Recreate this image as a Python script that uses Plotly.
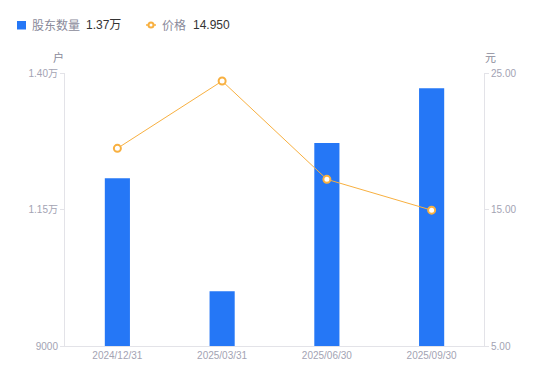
import plotly.graph_objects as go

categories = ["2024/12/31", "2025/03/31", "2025/06/30", "2025/09/30"]
holders = [12071, 10002, 12718, 13720]
prices = [19.48, 24.41, 17.21, 14.95]
left_tickvals = [9000, 11500, 14000]
left_ticktext = ["9000", "1.15万", "1.40万"]
right_tickvals = [5, 15, 25]
right_ticktext = ["5.00", "15.00", "25.00"]
legend_names = ["股东数量", "价格"]
legend_values = ["1.37万", "14.950"]

FONT = "Liberation Sans, Arial, Noto Sans CJK SC, sans-serif"
TICKC = "#a3a3b3"
AXC = "#e3e3e8"
BLUE = "#2577F6"
ORANGE = "#F8B040"

OFF = 8  # page body margin
W, H = 542, 373
L, R, T, B = 57, 66, 65, 35
PW, PH = W - L - R, H - T - B


def px(x):
    return (x - OFF - L) / PW


def py(y):
    return (H - B - (y - OFF)) / PH


fig = go.Figure()
fig.add_trace(go.Bar(
    x=categories, y=holders, name=legend_names[0],
    marker=dict(color=BLUE, line=dict(width=0)), width=0.24, yaxis="y",
))
fig.add_trace(go.Scatter(
    x=categories, y=prices, name=legend_names[1],
    mode="lines+markers", yaxis="y2",
    line=dict(color=ORANGE, width=1),
    marker=dict(symbol="circle", size=7, color="white", line=dict(color=ORANGE, width=2)),
))

shapes = [
    dict(type="rect", xref="paper", yref="paper", x0=px(17), x1=px(26), y0=py(21), y1=py(29.5),
         fillcolor=BLUE, line=dict(width=0), layer="above"),
    dict(type="line", xref="paper", yref="paper", x0=px(146), x1=px(156), y0=py(25), y1=py(25),
         line=dict(color=ORANGE, width=1.5)),
    dict(type="circle", xref="paper", yref="paper", x0=px(148.5), x1=px(153.5), y0=py(22.5), y1=py(27.5),
         fillcolor="white", line=dict(color=ORANGE, width=2)),
]

legend_font_name = dict(family="Noto Sans CJK SC, sans-serif", size=12, color="#8a8a9a")
legend_font_val = dict(family=FONT, size=12, color="#333333")

annotations = [
    dict(text=legend_names[0], xref="paper", yref="paper", x=px(30), y=py(25), xanchor="left",
         yanchor="middle", showarrow=False, font=legend_font_name),
    dict(text=legend_values[0], xref="paper", yref="paper", x=px(84), y=py(25), xanchor="left",
         yanchor="middle", showarrow=False, font=legend_font_val),
    dict(text=legend_names[1], xref="paper", yref="paper", x=px(160), y=py(25), xanchor="left",
         yanchor="middle", showarrow=False, font=legend_font_name),
    dict(text=legend_values[1], xref="paper", yref="paper", x=px(191), y=py(25), xanchor="left",
         yanchor="middle", showarrow=False, font=legend_font_val),
    dict(text="户", xref="paper", yref="paper", x=px(58), y=py(57), xanchor="center",
         yanchor="middle", showarrow=False,
         font=dict(family="Noto Sans CJK SC, sans-serif", size=11, color="#8a8a9a")),
    dict(text="元", xref="paper", yref="paper", x=px(490), y=py(57), xanchor="center",
         yanchor="middle", showarrow=False,
         font=dict(family="Noto Sans CJK SC, sans-serif", size=11, color="#8a8a9a")),
]

fig.update_layout(
    width=W, height=H,
    margin=dict(l=L, r=R, t=T, b=B, autoexpand=False),
    plot_bgcolor="white", paper_bgcolor="white",
    font=dict(family=FONT, size=10, color=TICKC),
    showlegend=False,
    xaxis=dict(showgrid=False, showline=True, linecolor=AXC, linewidth=1, ticks="",
               tickfont=dict(size=10, color=TICKC), zeroline=False, automargin=False),
    yaxis=dict(range=[9000, 14000], tickvals=left_tickvals, ticktext=left_ticktext,
               showgrid=False, showline=True, linecolor=AXC, linewidth=1,
               ticks="outside", ticklen=4, tickcolor=AXC, zeroline=False, automargin=False,
               tickfont=dict(size=10, color=TICKC)),
    yaxis2=dict(range=[5, 25], tickvals=right_tickvals, ticktext=right_ticktext,
                overlaying="y", side="right", showgrid=False, showline=True,
                linecolor=AXC, linewidth=1, ticks="outside", ticklen=4, tickcolor=AXC,
                zeroline=False, automargin=False, tickfont=dict(size=10, color=TICKC)),
    shapes=shapes,
    annotations=annotations,
)

fig.write_html("out.html")
